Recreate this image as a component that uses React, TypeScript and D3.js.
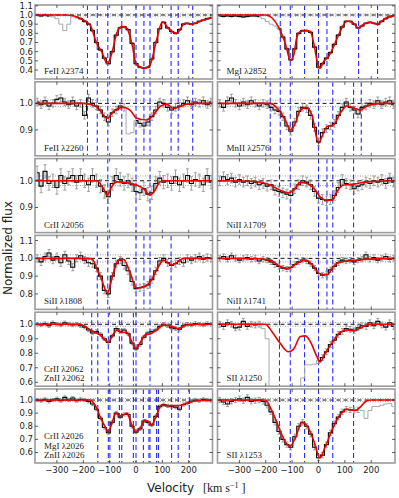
import React from 'react';
import * as d3 from 'd3';

// velocity bin centres [km/s]
const VEL = [
  -375, -360, -345, -330, -315, -300, -285, -270, -255, -240, -225, -210, -195, -180, -165,
  -150, -135, -120, -105, -90, -75, -60, -45, -30, -15, 0, 15, 30, 45, 60,
  75, 90, 105, 120, 135, 150, 165, 180, 195, 210, 225, 240, 255, 270, 285,
];

const X_DOMAIN = [-383, 290];
const X_TICKS = [-300, -200, -100, 0, 100, 200];

// one entry per row of panels
const ROW_YLIM = [[0.302, 1.109], [0.803, 1.081], [0.806, 1.083], [0.713, 1.129], [0.573, 1.083], [0.52, 1.084]];
const ROW_YTICKS = [
  [0.4, 0.5, 0.6, 0.7, 0.8, 0.9, 1.0, 1.1],
  [0.9, 1.0],
  [0.9, 1.0],
  [0.8, 0.9, 1.0, 1.1],
  [0.6, 0.7, 0.8, 0.9, 1.0],
  [0.6, 0.7, 0.8, 0.9, 1.0],
];
const ROW_CONT_ERR = [0.012, 0.012, 0.018, 0.02, 0.013, 0.012];

// FeII 2374
const FE2374_FLUX = [
  1.0, 0.99, 1.0, 0.99, 0.98, 0.96, 0.9, 0.83, 0.9, 0.98, 0.975, 0.96, 0.93, 0.9, 0.83,
  0.7, 0.62, 0.53, 0.47, 0.6, 0.78, 0.86, 0.87, 0.84, 0.69, 0.47, 0.43, 0.42, 0.43, 0.52,
  0.7, 0.85, 0.92, 0.86, 0.82, 0.8, 0.84, 0.9, 0.91, 0.9, 0.91, 0.93, 0.945, 0.96, 0.97,
];
const FE2374_FIT = [
  [-383, 1], [-262, 1], [-212, 0.964], [-174, 0.89], [-149, 0.69], [-130, 0.6], [-109, 0.47],
  [-92, 0.58], [-73, 0.8], [-54, 0.873], [-35, 0.855], [-16, 0.69], [2, 0.455], [34, 0.42],
  [53, 0.455], [78, 0.73], [100, 0.927], [122, 0.855], [154, 0.8], [186, 0.91], [211, 0.9],
  [242, 0.93], [274, 0.96], [290, 0.97],
];
const FE_COMPS = [-184, -147, -107, -54, 0, 30, 53, 133, 160, 215];

// FeII 2260
const FE2260_FLUX = [
  1.005, 0.995, 1.01, 0.99, 1.0, 1.015, 1.02, 1.005, 0.995, 1.01, 0.99, 1.0, 0.955, 1.02, 1.0,
  0.99, 0.975, 0.95, 0.93, 0.965, 0.975, 0.99, 0.985, 0.885, 0.89, 0.935, 0.925, 0.915, 0.93, 0.95,
  0.975, 1.005, 1.0, 0.985, 0.975, 0.985, 0.99, 1.0, 1.01, 0.995, 1.005, 1.0, 1.01, 0.995, 1.005,
];
const FE2260_FIT = [
  [-383, 1], [-200, 1], [-149, 0.9875], [-109, 0.944], [-86, 0.969], [-49, 0.985], [-23, 0.975],
  [2, 0.944], [40, 0.9375], [65, 0.956], [91, 0.9875], [116, 0.997], [141, 0.981], [166, 0.9875],
  [192, 0.997], [230, 1], [290, 1],
];

// MgI 2852
const MG2852_FLUX = [
  0.99, 0.985, 0.99, 0.985, 0.99, 0.985, 0.98, 0.985, 0.99, 0.99, 0.985, 0.96, 0.93, 0.9, 0.88,
  0.85, 0.76, 0.63, 0.51, 0.63, 0.8, 0.83, 0.83, 0.81, 0.65, 0.43, 0.47, 0.53, 0.59, 0.68,
  0.78, 0.87, 0.93, 0.93, 0.9, 0.86, 0.88, 0.91, 0.92, 0.91, 0.9, 0.93, 0.96, 0.98, 0.99,
];
const MG2852_FIT = [
  [-383, 1], [-200, 1], [-177, 0.97], [-146, 0.836], [-126, 0.69], [-107, 0.51], [-94, 0.565],
  [-82, 0.76], [-69, 0.82], [-50, 0.83], [-31, 0.82], [-18, 0.69], [0, 0.436], [6, 0.42],
  [19, 0.49], [38, 0.545], [57, 0.654], [82, 0.82], [108, 0.935], [133, 0.91], [152, 0.855],
  [171, 0.9], [197, 0.92], [222, 0.9], [247, 0.95], [278, 0.99], [290, 0.99],
];
const MG2852_COMPS = [-145, -107, -53, 0, 32, 152, 224];

// MnII 2576
const MN2576_FLUX = [
  1.0, 0.985, 1.01, 1.02, 1.0, 0.99, 1.005, 0.995, 1.01, 1.0, 0.99, 1.0, 0.995, 0.985, 0.975,
  0.97, 0.95, 0.915, 0.895, 0.93, 0.97, 0.985, 0.98, 0.955, 0.91, 0.855, 0.89, 0.905, 0.915, 0.925,
  0.955, 0.985, 1.005, 0.985, 0.975, 0.96, 0.985, 0.99, 1.0, 0.995, 1.01, 0.995, 1.005, 1.01, 0.995,
];
const MN2576_FIT = [
  [-383, 1], [-183, 1], [-146, 0.969], [-126, 0.9375], [-107, 0.9], [-88, 0.925], [-69, 0.975],
  [-44, 0.985], [-25, 0.956], [0, 0.85], [13, 0.875], [32, 0.9125], [57, 0.919], [82, 0.9625],
  [108, 0.99], [139, 0.981], [158, 0.975], [184, 0.99], [230, 1], [290, 1],
];
const MN2576_COMPS = [-183, -145, -107, 0, 54, 133, 162];

// CrII 2056
const CR2056_FLUX = [
  1.03, 0.98, 1.035, 0.99, 1.0, 0.975, 1.02, 0.99, 1.01, 1.02, 0.995, 1.02, 1.0, 0.985, 1.02,
  1.0, 0.98, 0.96, 0.94, 0.99, 1.02, 1.005, 0.99, 1.0, 0.985, 0.96, 0.955, 0.97, 0.95, 0.955,
  0.99, 1.01, 0.995, 1.0, 0.99, 1.015, 0.985, 1.0, 1.02, 0.99, 1.005, 1.0, 0.985, 1.02, 0.995,
];
const CR2056_FIT = [
  [-383, 1], [-149, 1], [-124, 0.971], [-109, 0.946], [-92, 0.978], [-73, 0.996], [-35, 0.9925],
  [2, 0.984], [28, 0.971], [53, 0.946], [72, 0.965], [91, 0.996], [120, 1], [290, 1],
];
const CR2056_COMPS = [-107, 0, 53];

// NiII 1709
const NI1709_FLUX = [
  1.0, 1.015, 1.005, 1.01, 0.995, 1.005, 0.995, 1.0, 0.99, 0.995, 0.985, 0.99, 0.98, 0.985, 0.965,
  0.96, 0.955, 0.95, 0.945, 0.97, 0.985, 1.0, 0.995, 0.985, 0.96, 0.935, 0.93, 0.925, 0.93, 0.945,
  0.975, 1.005, 0.99, 0.985, 0.97, 0.98, 0.985, 0.995, 0.99, 1.0, 0.995, 1.005, 0.99, 1.01, 0.995,
];
const NI1709_FIT = [
  [-383, 1], [-250, 0.998], [-183, 0.984], [-146, 0.965], [-114, 0.955], [-94, 0.965], [-69, 0.994],
  [-44, 0.99], [-12, 0.965], [6, 0.94], [32, 0.9275], [51, 0.9275], [70, 0.96], [95, 0.984],
  [133, 0.9875], [184, 0.996], [290, 1],
];
const NI_COMPS = [-148, -107, 0, 32, 54, 133];

// SiII 1808
const SI1808_FLUX = [
  1.0, 0.98, 1.01, 1.03, 0.99, 1.01, 0.975, 1.02, 0.985, 0.95, 1.0, 1.015, 0.99, 0.975, 0.97,
  0.945, 0.9, 0.82, 0.8, 0.9, 0.97, 0.99, 0.96, 0.93, 0.87, 0.83, 0.835, 0.84, 0.85, 0.88,
  0.93, 0.985, 1.0, 0.975, 0.96, 0.97, 0.985, 0.975, 1.0, 0.99, 1.0, 1.01, 0.995, 1.005, 1.0,
];
const SI1808_FIT = [
  [-383, 1], [-180, 1], [-165, 0.994], [-149, 0.944], [-130, 0.88], [-109, 0.806], [-86, 0.917],
  [-67, 0.99], [-47, 0.994], [-22, 0.917], [2, 0.833], [34, 0.843], [59, 0.88], [85, 0.954],
  [104, 0.99], [135, 0.963], [154, 0.976], [180, 1], [290, 1],
];
const SI1808_COMPS = [-147, -107, 0, 30, 53, 133];

// NiII 1741
const NI1741_FLUX = [
  1.0, 1.01, 0.995, 1.015, 1.0, 0.99, 1.0, 1.005, 0.995, 1.0, 0.985, 0.995, 0.99, 0.98, 0.965,
  0.955, 0.945, 0.94, 0.95, 0.965, 0.98, 0.99, 0.985, 0.97, 0.945, 0.915, 0.905, 0.91, 0.935, 0.955,
  0.975, 0.99, 0.985, 0.99, 0.98, 0.99, 0.995, 1.02, 0.995, 1.005, 0.99, 1.0, 1.01, 0.995, 1.0,
];
const NI1741_FIT = [
  [-383, 1], [-230, 0.998], [-183, 0.99], [-146, 0.954], [-114, 0.944], [-82, 0.972], [-50, 0.99],
  [-18, 0.954], [0, 0.917], [32, 0.907], [57, 0.954], [82, 0.98], [133, 0.987], [180, 0.994],
  [290, 1],
];

// CrII + ZnII 2062
const CRZN2062_FLUX = [
  1.0, 0.995, 1.005, 0.99, 1.01, 1.0, 0.995, 1.01, 1.0, 0.995, 1.0, 0.99, 0.98, 0.96, 0.94,
  0.95, 0.93, 0.9, 0.875, 0.92, 0.97, 0.95, 0.96, 0.935, 0.87, 0.83, 0.86, 0.91, 0.94, 0.95,
  0.96, 0.985, 1.0, 0.99, 0.975, 0.97, 0.965, 0.99, 1.0, 0.995, 1.005, 1.0, 0.995, 1.005, 1.0,
];
const CRZN2062_FIT = [
  [-383, 1], [-212, 1], [-181, 0.97], [-155, 0.943], [-136, 0.926], [-117, 0.89], [-105, 0.876],
  [-88, 0.926], [-71, 0.96], [-54, 0.943], [-35, 0.943], [-16, 0.88], [0, 0.834], [15, 0.87],
  [34, 0.926], [53, 0.933], [78, 0.96], [104, 0.995], [129, 0.99], [160, 0.97], [192, 0.995],
  [230, 1], [290, 1],
];
const CRZN2062_COMPS = [-168, -145, -105, -63, -54, -10, 0, 53, 135, 160];

// SII 1250
const S1250_FLUX = [
  1.0, 0.985, 1.01, 1.0, 0.975, 0.98, 1.02, 0.985, 1.0, 0.995, 1.0, 0.97, 0.9, 0.45, 0.45,
  0.45, 0.45, 0.45, 0.45, 0.45, 0.5, 0.63, 0.72, 0.72, 0.725, 0.75, 0.77, 0.81, 0.86, 0.89,
  0.93, 0.95, 0.97, 0.965, 0.955, 0.975, 0.99, 0.985, 1.01, 0.99, 1.02, 0.995, 0.98, 1.01, 0.985,
];
const S1250_FIT = [
  [-383, 1], [-202, 1], [-177, 0.95], [-146, 0.87], [-114, 0.81], [-94, 0.83], [-69, 0.915],
  [-50, 0.92], [-31, 0.88], [-6, 0.777], [6, 0.74], [25, 0.8], [51, 0.87], [82, 0.943],
  [108, 0.96], [133, 0.956], [171, 0.984], [200, 1], [290, 1],
];
const S_COMPS = [-148, -107, -53, 0, 54, 133];

// CrII + MgI + ZnII 2026
const CMZ2026_FLUX = [
  1.0, 0.995, 1.005, 0.99, 1.0, 1.01, 0.995, 1.02, 1.0, 1.015, 0.995, 1.005, 1.0, 0.99, 0.97,
  0.93, 0.86, 0.79, 0.75, 0.83, 0.9, 0.87, 0.89, 0.89, 0.8, 0.755, 0.78, 0.84, 0.83, 0.81,
  0.875, 0.95, 0.965, 0.955, 0.95, 0.945, 0.93, 0.965, 0.975, 0.99, 1.0, 0.995, 1.005, 1.0, 0.995,
];
const CMZ2026_FIT = [
  [-383, 1], [-174, 1], [-155, 0.96], [-136, 0.873], [-117, 0.796], [-105, 0.758], [-92, 0.82],
  [-76, 0.9], [-61, 0.88], [-45, 0.89], [-35, 0.9], [-16, 0.81], [0, 0.758], [15, 0.784],
  [34, 0.847], [47, 0.835], [59, 0.81], [78, 0.885], [97, 0.962], [129, 0.957], [160, 0.957],
  [192, 0.975], [230, 0.995], [290, 1],
];
const CMZ2026_COMPS = [-145, -105, -99, -63, -54, -10, 0, 28, 49, 53, 78, 85, 135, 160, 202];

// SII 1253
const S1253_FLUX = [
  1.0, 0.985, 0.97, 0.99, 1.0, 1.01, 0.995, 1.02, 0.99, 0.995, 1.0, 0.99, 0.96, 0.91, 0.83,
  0.76, 0.7, 0.66, 0.64, 0.72, 0.8, 0.83, 0.8, 0.74, 0.64, 0.56, 0.58, 0.66, 0.75, 0.82,
  0.87, 0.91, 0.93, 0.925, 0.92, 0.925, 0.92, 0.86, 0.92, 0.95, 0.95, 0.96, 0.97, 0.975, 0.95,
];
const S1253_FIT = [
  [-383, 1], [-202, 1], [-177, 0.92], [-146, 0.77], [-123, 0.67], [-107, 0.65], [-88, 0.71],
  [-63, 0.83], [-44, 0.806], [-18, 0.69], [5, 0.56], [25, 0.64], [51, 0.77], [76, 0.87],
  [108, 0.93], [139, 0.92], [160, 0.95], [180, 0.99], [200, 1], [290, 1],
];

const PANELS = [
  { row: 0, col: 0, label: ['FeII λ2374'], flux: FE2374_FLUX, fit: FE2374_FIT, comps: FE_COMPS, mask: [[-322, -232]], err: 0.008 },
  { row: 0, col: 1, label: ['MgI λ2852'], flux: MG2852_FLUX, fit: MG2852_FIT, comps: MG2852_COMPS, mask: [[-218, -158]], err: 0.008 },
  { row: 1, col: 0, label: ['FeII λ2260'], flux: FE2260_FLUX, fit: FE2260_FIT, comps: FE_COMPS, mask: [[-38, -8]], err: 0.014 },
  { row: 1, col: 1, label: ['MnII λ2576'], flux: MN2576_FLUX, fit: MN2576_FIT, comps: MN2576_COMPS, mask: [], err: 0.014 },
  { row: 2, col: 0, label: ['CrII λ2056'], flux: CR2056_FLUX, fit: CR2056_FIT, comps: CR2056_COMPS, mask: [], err: 0.025 },
  { row: 2, col: 1, label: ['NiII λ1709'], flux: NI1709_FLUX, fit: NI1709_FIT, comps: NI_COMPS, mask: [], err: 0.018 },
  { row: 3, col: 0, label: ['SiII λ1808'], flux: SI1808_FLUX, fit: SI1808_FIT, comps: SI1808_COMPS, mask: [], err: 0.02 },
  { row: 3, col: 1, label: ['NiII λ1741'], flux: NI1741_FLUX, fit: NI1741_FIT, comps: NI_COMPS, mask: [], err: 0.015 },
  { row: 4, col: 0, label: ['CrII λ2062', 'ZnII λ2062'], flux: CRZN2062_FLUX, fit: CRZN2062_FIT, comps: CRZN2062_COMPS, mask: [], err: 0.012 },
  { row: 4, col: 1, label: ['SII λ1250'], flux: S1250_FLUX, fit: S1250_FIT, comps: S_COMPS, mask: [[-215, -8]], err: 0.02 },
  { row: 5, col: 0, label: ['CrII λ2026', 'MgI λ2026', 'ZnII λ2026'], flux: CMZ2026_FLUX, fit: CMZ2026_FIT, comps: CMZ2026_COMPS, mask: [], err: 0.012 },
  { row: 5, col: 1, label: ['SII λ1253'], flux: S1253_FLUX, fit: S1253_FIT, comps: S_COMPS, mask: [[158, 290]], err: 0.02 },
];

const W = 399;
const H = 498;
const COL_X = [35, 217.5];
const COL_W = 177.5;
const ROW_TOP = 5;
const ROW_STEP = 76.8;
const ROW_H = 74;
const SANS = 'DejaVu Sans, sans-serif';
const SERIF = 'Liberation Serif, DejaVu Serif, serif';

const fmtX = (v) => (v < 0 ? '\u2212' + Math.abs(v) : String(v));

const Panel = ({ p, idx }) => {
  const x0 = COL_X[p.col];
  const y0 = ROW_TOP + p.row * ROW_STEP;
  const x = d3.scaleLinear().domain(X_DOMAIN).range([x0, x0 + COL_W]);
  const y = d3.scaleLinear().domain(ROW_YLIM[p.row]).range([y0 + ROW_H, y0]);
  const cont = ROW_CONT_ERR[p.row];

  const pts = VEL.map((v, i) => ({
    v,
    f: p.flux[i],
    ok: !p.mask.some(([a, b]) => v >= a && v <= b),
  }));

  const grayLine = d3.line().x(d => x(d.v)).y(d => y(d.f)).curve(d3.curveStep);
  const blackLine = d3.line().defined(d => d.ok).x(d => x(d.v)).y(d => y(d.f)).curve(d3.curveStep);
  const fitLine = d3.line().x(d => x(d[0])).y(d => y(d[1])).curve(d3.curveMonotoneX);
  const clipId = `clip-${idx}`;
  const [x1, x2] = x.range();
  const yb = y0 + ROW_H;

  return (
    <g>
      <defs>
        <clipPath id={clipId}>
          <rect x={x0} y={y0} width={COL_W} height={ROW_H} />
        </clipPath>
      </defs>
      <g clipPath={`url(#${clipId})`}>
        {/* continuum level and its uncertainty */}
        <line x1={x1} x2={x2} y1={y(1 + cont)} y2={y(1 + cont)} stroke="#888" strokeWidth={0.8} strokeDasharray="1,1.5" />
        <line x1={x1} x2={x2} y1={y(1 - cont)} y2={y(1 - cont)} stroke="#888" strokeWidth={0.8} strokeDasharray="1,1.5" />
        <line x1={x1} x2={x2} y1={y(1)} y2={y(1)} stroke="#111" strokeWidth={1} strokeDasharray="4,3" />

        {/* component velocities */}
        {p.comps.map((c, i) => (
          <line key={'c' + i} x1={x(c)} x2={x(c)} y1={y0} y2={yb} stroke="#2b2bff" strokeWidth={1.1} strokeDasharray="5,3" />
        ))}

        {/* error bars */}
        {pts.filter(d => d.ok).map((d, i) => (
          <g key={'e' + i} stroke="#8c8c8c" strokeWidth={0.8}>
            <line x1={x(d.v)} x2={x(d.v)} y1={y(d.f - p.err)} y2={y(d.f + p.err)} />
            <line x1={x(d.v) - 1.5} x2={x(d.v) + 1.5} y1={y(d.f - p.err)} y2={y(d.f - p.err)} />
            <line x1={x(d.v) - 1.5} x2={x(d.v) + 1.5} y1={y(d.f + p.err)} y2={y(d.f + p.err)} />
          </g>
        ))}

        <path d={grayLine(pts)} fill="none" stroke="#a8a8a8" strokeWidth={1} />
        <path d={blackLine(pts)} fill="none" stroke="#111" strokeWidth={1.1} />
        <path d={fitLine(p.fit)} fill="none" stroke="#ee0000" strokeWidth={1.6} />
      </g>

      {/* frame */}
      <rect x={x0} y={y0} width={COL_W} height={ROW_H} fill="none" stroke="#9c9c9c" strokeWidth={1.6} />

      {/* ticks */}
      {X_TICKS.map(t => (
        <g key={'xt' + t} stroke="#333" strokeWidth={0.8}>
          <line x1={x(t)} x2={x(t)} y1={yb} y2={yb - 3} />
          <line x1={x(t)} x2={x(t)} y1={y0} y2={y0 + 3} />
        </g>
      ))}
      {ROW_YTICKS[p.row].map(t => (
        <g key={'yt' + t} stroke="#333" strokeWidth={0.8}>
          <line x1={x1} x2={x1 + 3} y1={y(t)} y2={y(t)} />
          <line x1={x2} x2={x2 - 3} y1={y(t)} y2={y(t)} />
        </g>
      ))}

      {p.col === 0 && ROW_YTICKS[p.row].map(t => (
        <text key={'yl' + t} x={x0 - 2} y={y(t)} dy="0.35em" textAnchor="end" fontFamily={SANS} fontSize={8.5} fill="#222">
          {d3.format('.1f')(t)}
        </text>
      ))}
      {p.row === 5 && X_TICKS.map(t => (
        <text key={'xl' + t} x={x(t)} y={yb + 10} textAnchor="middle" fontFamily={SANS} fontSize={8.5} fill="#222">
          {fmtX(t)}
        </text>
      ))}

      {p.label.map((s, k) => (
        <text key={'lb' + k} x={x0 + 9} y={yb - 5 - (p.label.length - 1 - k) * 9.5} fontFamily={SERIF} fontSize={9} fill="#222">
          {s}
        </text>
      ))}
    </g>
  );
};

const App = () => (
  <svg width={W} height={H} style={{ position: 'absolute', left: 0, top: 0, background: '#fff' }}>
    <rect x={0} y={0} width={W} height={H} fill="#fff" />
    {PANELS.map((p, i) => <Panel key={i} p={p} idx={i} />)}
    <text transform="translate(12,248) rotate(-90)" textAnchor="middle" fontFamily={SANS} fontSize={12} fill="#222">
      Normalized flux
    </text>
    <text x={147} y={492} fontFamily={SANS} fontSize={12} fill="#222">Velocity</text>
    <text x={203} y={492} fontFamily={SERIF} fontSize={12} fill="#222">
      [km s<tspan dy={-4} fontSize={8}>−1</tspan><tspan dy={4}> ]</tspan>
    </text>
  </svg>
);

export default App;
